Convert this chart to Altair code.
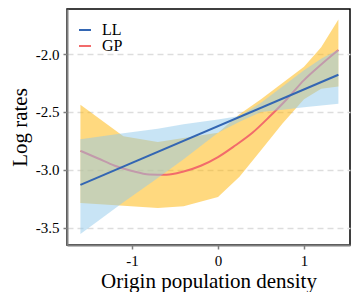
import altair as alt
import pandas as pd

# ---- data ----
band_x = [-1.6, -1.1, -0.7, -0.4, 0.0, 0.25, 0.5, 0.75, 1.0, 1.2, 1.4]
gp_hi = [-2.438, -2.71, -2.76, -2.725, -2.68, -2.52, -2.39, -2.25, -2.11, -1.94, -1.70]
gp_lo = [-3.288, -3.31, -3.33, -3.315, -3.235, -3.06, -2.83, -2.60, -2.39, -2.30, -2.28]
ll_hi = [-2.735, -2.683, -2.645, -2.606, -2.566, -2.535, -2.42, -2.28, -2.14, -2.04, -1.96]
ll_lo = [-3.554, -3.28, -3.07, -2.908, -2.68, -2.584, -2.50, -2.48, -2.46, -2.445, -2.43]

ll_x = [-1.6, 1.4]
ll_y = [-3.13, -2.178]

gp_x = [-1.6, -1.4, -1.2, -1.0, -0.8, -0.6, -0.4, -0.2, 0.0, 0.2, 0.4, 0.6, 0.8, 1.0, 1.2, 1.4]
gp_y = [-2.836, -2.90, -2.965, -3.01, -3.04, -3.043, -3.015, -2.965, -2.89, -2.79, -2.68,
        -2.54, -2.39, -2.225, -2.09, -1.965]

models = ["LL", "GP"]
colors = ["#3366b3", "#f26b6b"]
band_colors = ["#91c9eb", "#ffb300"]

x_ticks = [-1, 0, 1]
y_ticks = [-3.5, -3.0, -2.5, -2.0]

FONT = "Liberation Serif"

bands = pd.DataFrame({"x": band_x, "gp_hi": gp_hi, "gp_lo": gp_lo,
                      "ll_hi": ll_hi, "ll_lo": ll_lo})
ll_df = pd.DataFrame({"x": ll_x, "y": ll_y, "model": models[0]})
gp_df = pd.DataFrame({"x": gp_x, "y": gp_y, "model": models[1]})

xscale = alt.Scale(domain=[-1.756, 1.535], nice=False, zero=False)
yscale = alt.Scale(domain=[-3.65, -1.61], nice=False, zero=False)

xaxis = alt.Axis(values=x_ticks, title="Origin population density", grid=False,
                 labelExpr="datum.value < 0 ? '-' + format(-datum.value, 'd') : format(datum.value, 'd')")
yaxis = alt.Axis(values=y_ticks, title="Log rates", grid=True,
                 labelExpr="datum.value < 0 ? '-' + format(-datum.value, '.1f') : format(datum.value, '.1f')")

color = alt.Color("model:N", scale=alt.Scale(domain=models, range=colors),
                  legend=alt.Legend(title=None, orient="none", legendX=10, legendY=13,
                                    symbolType="stroke", symbolSize=144, symbolStrokeWidth=2,
                                    labelFont=FONT, labelFontSize=16, labelColor="black",
                                    rowPadding=-3, labelOffset=9, padding=0))

gp_band = alt.Chart(bands).mark_area(color=band_colors[1], opacity=0.5).encode(
    x=alt.X("x:Q", scale=xscale, axis=xaxis),
    y=alt.Y("gp_lo:Q", scale=yscale, axis=yaxis),
    y2="gp_hi:Q")

ll_band = alt.Chart(bands).mark_area(color=band_colors[0], opacity=0.5).encode(
    x=alt.X("x:Q", scale=xscale),
    y=alt.Y("ll_lo:Q", scale=yscale),
    y2="ll_hi:Q")

gp_line = alt.Chart(gp_df).mark_line(strokeWidth=2, interpolate="monotone").encode(
    x=alt.X("x:Q", scale=xscale), y=alt.Y("y:Q", scale=yscale), color=color)

ll_line = alt.Chart(ll_df).mark_line(strokeWidth=2).encode(
    x=alt.X("x:Q", scale=xscale), y=alt.Y("y:Q", scale=yscale), color=color)

chart = alt.layer(gp_band, gp_line, ll_band, ll_line).properties(
    width=283, height=236,
    padding={"left": 59, "top": 1, "right": 2, "bottom": 47},
    autosize=alt.AutoSizeParams(type="none"),
).configure_view(
    stroke="black", strokeWidth=1.5
).configure_axis(
    labelFont=FONT, labelFontSize=15, labelColor="black",
    titleFont=FONT, titleFontSize=21, titleFontWeight="normal", titleColor="black",
    domainColor="#7f7f7f", domainWidth=2,
    tickColor="#7f7f7f", tickWidth=1.5, tickSize=4,
    gridColor="#dddddd", gridDash=[6, 4], gridWidth=1.5,
    labelPadding=4,
).configure_axisY(titlePadding=5).configure_axisX(titlePadding=2)

chart.save("out.html", embed_options={"renderer": "svg", "actions": False})
